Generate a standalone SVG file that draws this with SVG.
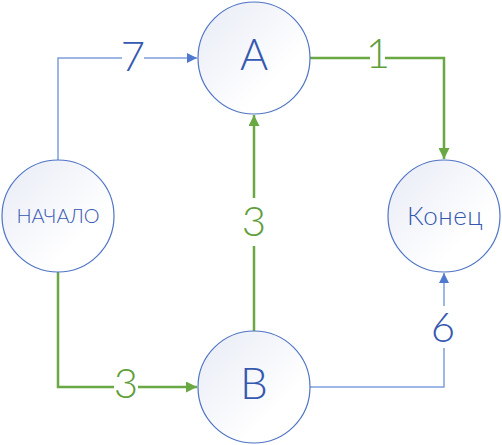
<svg xmlns="http://www.w3.org/2000/svg" width="502" height="445" viewBox="0 0 502 445">
<defs>
<linearGradient id="g" x1="0" y1="0" x2="1" y2="1">
<stop offset="0" stop-color="#e8ebf6"/>
<stop offset="0.7" stop-color="#ffffff"/>
</linearGradient>
<marker id="ab" viewBox="0 0 10 10" refX="10" refY="5" markerWidth="10" markerHeight="10" markerUnits="userSpaceOnUse" orient="auto">
<path d="M0,0 L10,5 L0,10 z" fill="#4f79cc"/>
</marker>
<marker id="ag" viewBox="0 0 10 10" refX="10" refY="5" markerWidth="11" markerHeight="11" markerUnits="userSpaceOnUse" orient="auto">
<path d="M0,0 L10,5 L0,10 z" fill="#6aa843"/>
</marker>
<style>
.n{fill:url(#g);stroke:#4f74c4;stroke-width:1.2}
.t{font-family:Lato,"Open Sans",sans-serif;font-weight:300;fill:#3558b0;text-anchor:middle}
.b{fill:none;stroke:#7f9fdb;stroke-width:1.5}
.gr{fill:none;stroke:#6aa843;stroke-width:2.5}
.lb{font-family:Lato,"Open Sans",sans-serif;font-weight:300;font-size:42px;text-anchor:middle}
.bg{fill:#ffffff}
</style>
</defs>
<rect width="502" height="445" fill="#ffffff"/>
<g id="connectors">
<path class="b" d="M58,160 V58 H197" marker-end="url(#ab)"/>
<path class="gr" d="M310,58 H444 V159" marker-end="url(#ag)"/>
<path class="gr" d="M254,331 V115" marker-end="url(#ag)"/>
<path class="gr" d="M58,272 V387 H197" marker-end="url(#ag)"/>
<path class="b" d="M310,387 H444 V273" marker-end="url(#ab)"/>
<rect class="bg" x="122" y="40" width="22" height="36"/>
<text class="lb" x="133" y="71" fill="#3558b0">7</text>
<rect class="bg" x="370" y="40" width="15" height="36"/>
<text class="lb" x="378" y="68" fill="#5f9e3a">1</text>
<rect class="bg" x="240" y="198" width="28" height="48"/>
<text class="lb" x="254" y="236" fill="#5f9e3a">3</text>
<rect class="bg" x="114" y="366" width="24" height="40"/>
<text class="lb" x="126" y="398" fill="#5f9e3a">3</text>
<rect class="bg" x="430" y="306" width="28" height="42"/>
<text class="lb" x="443" y="342" fill="#3558b0">6</text>
</g>
<g id="node-A">
<circle class="n" cx="254" cy="58" r="56"/>
<text class="t" x="254" y="70" font-size="43">A</text>
</g>
<g id="node-start">
<circle class="n" cx="58" cy="216" r="56"/>
<text class="t" x="58" y="223" font-size="20">НАЧАЛО</text>
</g>
<g id="node-end">
<circle class="n" cx="444" cy="216" r="56"/>
<text class="t" x="445" y="225" font-size="26" letter-spacing="0.5">Конец</text>
</g>
<g id="node-B">
<circle class="n" cx="254" cy="387" r="56"/>
<text class="t" x="254" y="399" font-size="44">B</text>
</g>
</svg>
